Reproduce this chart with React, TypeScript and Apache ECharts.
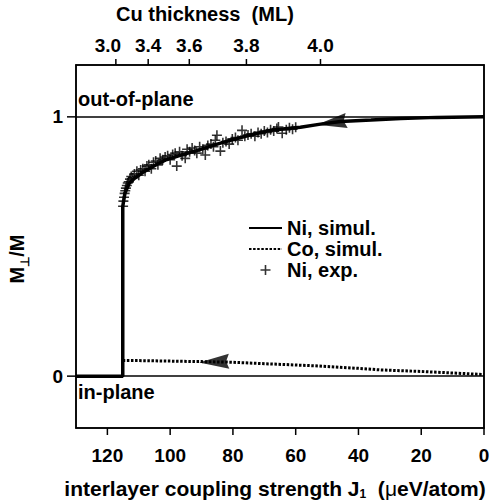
import React, { useEffect, useRef } from "react";
import * as echarts from "echarts";

// bottom axis: interlayer coupling J1 (µeV/atom), reversed
const jTicks = [0, 20, 40, 60, 80, 100, 120];
const yTicks = [0, 1];
// top axis: Cu thickness (ML) ticks at J positions
const topTickJ = [117.3, 107.0, 93.9, 75.7, 52.1];
const topTickLabels = ["3.0", "3.4", "3.6", "3.8", "4.0"];

// Ni simulation
const niJ = [130, 115.1, 115.1, 114.4, 113.0, 111.2, 108.8, 106.4, 104.0, 101.6, 96.8, 92.0, 86.3, 80.8, 74.5, 68.1, 58.5, 52.1, 45.7, 36, 26.5, 15, 0];
const niM = [0, 0, 0.655, 0.706, 0.745, 0.764, 0.785, 0.802, 0.818, 0.833, 0.852, 0.868, 0.89, 0.91, 0.93, 0.948, 0.96, 0.972, 0.982, 0.988, 0.994, 0.998, 1.0];

// Co simulation
const coJ = [115.1, 110, 100, 90, 81, 70, 54, 40, 33, 20, 11.5, 3, 0];
const coM = [0.06, 0.06, 0.058, 0.056, 0.054, 0.048, 0.04, 0.03, 0.024, 0.018, 0.013, 0.008, 0.006];

// Ni experiment
const niExpJ = [115.0, 114.9, 114.7, 114.5, 114.3, 114.1, 113.8, 113.5, 113.2, 112.8, 112.4, 111.9, 111.4, 110.6, 110.0, 109.4, 108.7, 108.0, 107.4, 106.8, 106.0, 105.3, 104.6, 103.9, 103.2, 102.4, 101.6, 100.8, 100.0, 99.2, 98.4, 97.9, 97.0, 96.2, 95.2, 94.6, 93.8, 93.0, 92.2, 91.5, 90.6, 89.6, 88.8, 88.0, 87.0, 86.2, 85.6, 85.1, 84.0, 83.2, 82.2, 81.2, 80.2, 79.2, 78.4, 77.1, 76.2, 75.2, 74.2, 73.0, 72.0, 71.0, 70.0, 69.0, 68.0, 67.0, 66.0, 65.5, 64.3, 63.0, 62.0, 61.0, 60.0];
const niExpM = [0.655, 0.675, 0.69, 0.705, 0.715, 0.725, 0.735, 0.745, 0.75, 0.76, 0.77, 0.765, 0.78, 0.79, 0.775, 0.795, 0.8, 0.79, 0.81, 0.815, 0.8, 0.825, 0.83, 0.815, 0.84, 0.835, 0.845, 0.85, 0.835, 0.855, 0.86, 0.81, 0.865, 0.85, 0.84, 0.875, 0.865, 0.88, 0.87, 0.86, 0.885, 0.875, 0.853, 0.89, 0.895, 0.885, 0.91, 0.929, 0.868, 0.9, 0.905, 0.895, 0.915, 0.92, 0.91, 0.948, 0.925, 0.93, 0.935, 0.925, 0.94, 0.935, 0.945, 0.94, 0.95, 0.945, 0.955, 0.961, 0.937, 0.95, 0.958, 0.952, 0.96];

// arrow markers (direction of sweep)
const niArrow = [48.5, 0.978];
const coArrow = [86, 0.055];

const X_MIN = 0, X_MAX = 130, Y_MIN = -0.2, Y_MAX = 1.2;
const GRID = { left: 76, right: 8, top: 65, bottom: 76 };
const W = 492, H = 504;

const FONT = "Liberation Sans, Arial, Helvetica, sans-serif";
const PLUS = "path://M4.2,0H5.8V4.2H10V5.8H5.8V10H4.2V5.8H0V4.2H4.2Z";
const ARROW = "path://M0,7.5L30,0L27,7.5L30,15Z";
const BLACK_LINE = { color: "#000", width: 1.5 };

export default function App() {
  const ref = useRef<HTMLDivElement>(null);
  useEffect(() => {
    document.body.style.margin = "0";
    const chart = echarts.init(ref.current!, null, { renderer: "svg" });
    const pair = (xs: number[], ys: number[]) => xs.map((x, i) => [x, ys[i]]);
    chart.setOption({
      animation: false,
      backgroundColor: "#fff",
      textStyle: { fontFamily: FONT, color: "#000" },
      grid: {
        ...GRID,
        outerBoundsMode: "none",
        containLabel: false,
        show: true, borderColor: "#000", borderWidth: 1.5, backgroundColor: "transparent",
      },
      legend: {
        orient: "vertical",
        left: 243,
        top: 213,
        itemWidth: 33,
        itemHeight: 10,
        itemGap: 1,
        data: [
          { name: "Ni, simul.", itemStyle: { opacity: 0 } },
          { name: "Co, simul.", itemStyle: { opacity: 0 } },
          { name: "Ni, exp." },
        ],
        textStyle: { fontFamily: FONT, fontSize: 20, fontWeight: "bold", color: "#000" },
      },
      xAxis: [
        {
          type: "value",
          min: X_MIN,
          max: X_MAX,
          inverse: true,
          position: "bottom",
          axisLine: { show: true, onZero: false, lineStyle: BLACK_LINE },
          axisTick: { show: false },
          axisLabel: { customValues: jTicks, margin: 18, fontFamily: FONT, fontSize: 19, fontWeight: "bold", color: "#000" },
          splitLine: { show: false },
          name: "{a|interlayer coupling strength J}{s|1}{a|  (}{g|μ}{a|eV/atom)}",
          nameLocation: "middle",
          nameGap: 48,
          nameTextStyle: {
            padding: [0, 10, 0, 0],
            rich: {
              a: { fontFamily: FONT, fontSize: 21, fontWeight: "bold", color: "#000", lineHeight: 24 },
              g: { fontFamily: FONT, fontSize: 21, fontWeight: "normal", color: "#000", lineHeight: 24 },
              s: { fontFamily: FONT, fontSize: 12, fontWeight: "bold", color: "#000", lineHeight: 12, verticalAlign: "bottom" },
            },
          },
        },
        {
          type: "value",
          min: X_MIN,
          max: X_MAX,
          inverse: true,
          position: "top",
          axisLine: { show: true, onZero: false, lineStyle: BLACK_LINE },
          axisTick: { show: false },
          axisLabel: {
            customValues: topTickJ,
            margin: 10,
            fontFamily: FONT,
            fontSize: 19,
            fontWeight: "bold",
            color: "#000",
            formatter: (v: number) => {
              const i = topTickJ.findIndex((t) => Math.abs(t - v) < 1e-6);
              if (i < 0) return "";
              return i === 0 ? `{l|${topTickLabels[i]}}` : topTickLabels[i];
            },
            rich: { l: { fontFamily: FONT, fontSize: 19, fontWeight: "bold", color: "#000", padding: [0, 16, 0, 0] } },
          },
          splitLine: { show: false },
        },
      ],
      yAxis: [
        {
          type: "value",
          min: Y_MIN,
          max: Y_MAX,
          position: "left",
          axisLine: { show: true, onZero: false, lineStyle: BLACK_LINE },
          axisTick: { show: false },
          axisLabel: { customValues: yTicks, margin: 13, fontFamily: FONT, fontSize: 19, fontWeight: "bold", color: "#000" },
          splitLine: { show: false },
        },
        {
          type: "value",
          min: Y_MIN,
          max: Y_MAX,
          position: "right",
          axisLine: { show: true, onZero: false, lineStyle: BLACK_LINE },
          axisTick: { show: false },
          axisLabel: { show: false },
          splitLine: { show: false },
        },
      ],
      series: [
        {
          name: "Ni, simul.",
          type: "line",
          xAxisIndex: 0,
          yAxisIndex: 0,
          data: pair(niJ, niM),
          symbol: "none",
          showSymbol: false,
          lineStyle: { color: "#000", width: 3.5 },
          itemStyle: { color: "#000" },
          z: 4,
          markLine: {
            silent: true,
            symbol: ["none", "none"],
            label: { show: false },
            lineStyle: { color: "#000", width: 1.5, type: "solid" },
            data: [{ yAxis: 0 }, { yAxis: 1 }],
          },
        },
        {
          name: "Co, simul.",
          type: "line",
          xAxisIndex: 0,
          yAxisIndex: 0,
          data: pair(coJ, coM),
          symbol: "none",
          showSymbol: false,
          lineStyle: { color: "#000", width: 3, type: [2.5, 1.6] },
          itemStyle: { color: "#000" },
          z: 3,
        },
        {
          name: "Ni, exp.",
          type: "scatter",
          xAxisIndex: 0,
          yAxisIndex: 0,
          data: pair(niExpJ, niExpM),
          symbol: PLUS,
          symbolSize: 10,
          itemStyle: { color: "#000" },
          z: 3,
        },
        {
          name: "arrows",
          type: "scatter",
          xAxisIndex: 0,
          yAxisIndex: 0,
          data: [
            { value: niArrow, symbolRotate: 8 },
            { value: coArrow, symbolRotate: 2 },
          ],
          symbol: ARROW,
          symbolSize: [30, 15],
          itemStyle: { color: "#000" },
          z: 5,
        },
      ],
    });

    // outward tick marks, placed through the axes' own scales
    const toPx = (x: number, y: number) => chart.convertToPixel({ gridIndex: 0 }, [x, y]) as number[];
    const tick = (a: number[], dx: number, dy: number) => ({
      type: "line",
      silent: true,
      shape: { x1: a[0], y1: a[1], x2: a[0] + dx, y2: a[1] + dy },
      style: { stroke: "#000", lineWidth: 1.5 },
    });
    const ticks = [
      ...jTicks.map((t) => tick(toPx(t, Y_MIN), 0, 7)),
      ...topTickJ.map((t) => tick(toPx(t, Y_MAX), 0, -6)),
      ...yTicks.map((v) => tick(toPx(X_MAX, v), -9, 0)),
    ];
    chart.setOption({
      graphic: [
        { type: "text", left: 116, top: 4, style: { text: "Cu thickness  (ML)", font: `bold 20px ${FONT}`, fill: "#000" } },
        { type: "text", left: 78, top: 89, style: { text: "out-of-plane", font: `bold 20px ${FONT}`, fill: "#000" } },
        { type: "text", left: 78, top: 382, style: { text: "in-plane", font: `bold 20px ${FONT}`, fill: "#000" } },
        {
          type: "text",
          x: 17,
          y: 259,
          rotation: Math.PI / 2,
          style: {
            text: "{m|M}{s|⊥}{m|/M}",
            align: "center",
            verticalAlign: "middle",
            rich: {
              m: { fontFamily: FONT, fontSize: 20, fontWeight: "bold", fill: "#000", lineHeight: 28 },
              s: { fontFamily: FONT, fontSize: 12, fontWeight: "bold", fill: "#000", lineHeight: 12, verticalAlign: "bottom" },
            },
          },
        },
        ...ticks,
      ],
    });
    return () => chart.dispose();
  }, []);
  return <div ref={ref} style={{ width: W, height: H }} />;
}
